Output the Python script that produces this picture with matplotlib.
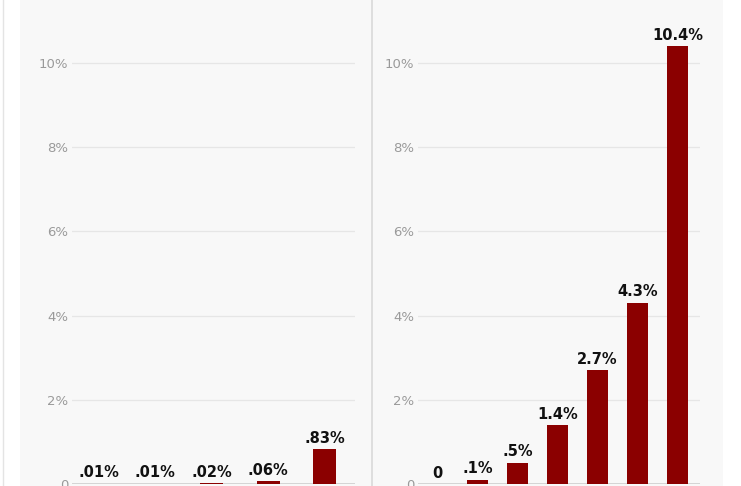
import matplotlib
matplotlib.use('Agg')
import matplotlib.pyplot as plt
from matplotlib.patches import Rectangle
from matplotlib.lines import Line2D

# data
left_values = [0.01, 0.01, 0.02, 0.06, 0.83]
left_labels = ['.01%', '.01%', '.02%', '.06%', '.83%']
right_values = [0.0, 0.1, 0.5, 1.4, 2.7, 4.3, 10.4]
right_labels = ['0', '.1%', '.5%', '1.4%', '2.7%', '4.3%', '10.4%']
y_ticks = [0, 2, 4, 6, 8, 10]
y_tick_labels = ['0', '2%', '4%', '6%', '8%', '10%']

BAR = '#8b0000'
PANEL = '#f8f8f8'
W, H = 741, 486

fig = plt.figure(figsize=(W / 100, H / 100), dpi=100)
fig.patch.set_facecolor('white')

# background panel + divider lines (drawn beneath the axes)
fig.patches.append(Rectangle((20 / W, 0), (723 - 20) / W, 1, transform=fig.transFigure,
                             facecolor=PANEL, edgecolor='none', zorder=-5))
fig.lines.append(Line2D([2.5 / W, 2.5 / W], [0, 1], transform=fig.transFigure,
                        color='#e4e4e4', lw=1, zorder=-4))
fig.lines.append(Line2D([372 / W, 372 / W], [0, 1], transform=fig.transFigure,
                        color='#dcdcdc', lw=1.3, zorder=-4))

bottom = (H - 484) / H
ymax = 484 / 42.1


def draw_panel(rect, values, labels, xlim, width):
    ax = fig.add_axes(rect)
    ax.set_facecolor('none')
    xs = range(len(values))
    ax.bar(xs, values, width=width, color=BAR, zorder=3)
    for x, v, lab in zip(xs, values, labels):
        ax.annotate(lab, (x, v), xytext=(0, 2.5), textcoords='offset points',
                    ha='center', va='bottom', fontsize=10.5, fontweight='bold',
                    color='#111111', zorder=4)
    ax.set_xlim(*xlim)
    ax.set_ylim(0, ymax)
    ax.set_yticks(y_ticks)
    ax.set_yticklabels(y_tick_labels)
    ax.set_xticks([])
    ax.tick_params(axis='y', length=0, pad=2.5, labelsize=9.5, labelcolor='#9a9a9a')
    ax.grid(axis='y', color='#e6e6e6', lw=0.9, zorder=0)
    ax.axhline(0, color='#cfcfcf', lw=1.2, zorder=2)
    for s in ax.spines.values():
        s.set_visible(False)
    return ax


draw_panel([72 / W, bottom, (355 - 72) / W, 1 - bottom], left_values, left_labels,
           ((72 - 98.5) / 56.5, (355 - 98.5) / 56.5), 23 / 56.5)
draw_panel([418 / W, bottom, (700 - 418) / W, 1 - bottom], right_values, right_labels,
           ((418 - 437.5) / 40, (700 - 437.5) / 40), 21 / 40)

fig.savefig('out.png', dpi=100, facecolor=fig.get_facecolor())
